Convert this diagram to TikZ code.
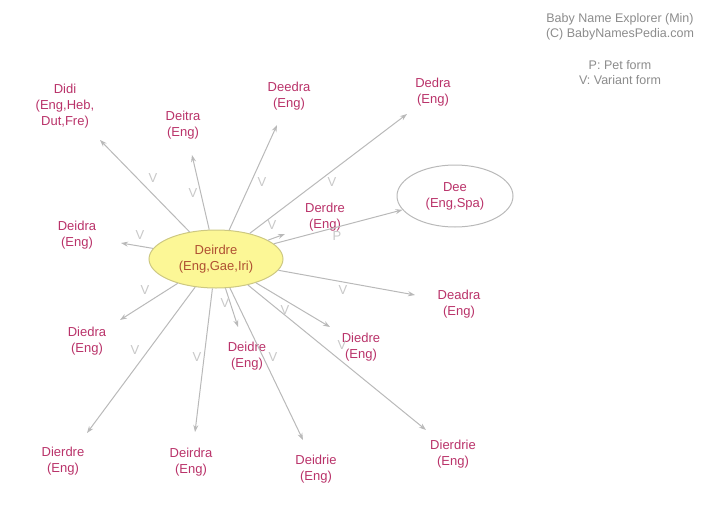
\documentclass[tikz,border=0pt]{standalone}
\usepackage{fontspec}
\setmainfont{Liberation Sans}
\usetikzlibrary{shapes,arrows.meta}
\definecolor{namered}{RGB}{185,50,105}
\definecolor{mainred}{RGB}{175,80,50}
\definecolor{edgegray}{RGB}{185,185,185}
\definecolor{vgray}{RGB}{200,200,200}
\definecolor{notegray}{RGB}{140,140,140}
\definecolor{mainfill}{RGB}{252,247,150}
\definecolor{mainline}{RGB}{205,200,130}
\tikzset{
  namelabel/.style={text=namered,align=center,inner sep=0pt,
    font=\fontsize{13}{16}\selectfont},
  mainnode/.style={ellipse,draw=mainline,fill=mainfill,line width=1pt,
    minimum width=134pt,minimum height=58pt,text=mainred,align=center,
    inner sep=0pt,font=\fontsize{13}{16}\selectfont},
  othernode/.style={ellipse,draw=edgegray,line width=1pt,
    minimum width=116pt,minimum height=62pt,text=namered,align=center,
    inner sep=0pt,font=\fontsize{13}{16}\selectfont},
  edge/.style={draw=edgegray,line width=1pt,-{Stealth[length=7pt,width=5pt]}},
  vlabel/.style={text=vgray,inner sep=0pt,font=\fontsize{13}{14}\selectfont},
  note/.style={text=notegray,align=center,inner sep=0pt,
    font=\fontsize{12.5}{15}\selectfont}
}
\begin{document}
\begin{tikzpicture}[x=1pt,y=-1pt]
    \useasboundingbox (0,0) rectangle (720,506);
    % centre and the pet form
    \node[mainnode] (deirdre) at (216,259) {Deirdre\\(Eng,Gae,Iri)};
    \node[othernode] (dee) at (455,196) {Dee\\(Eng,Spa)};
    % variant names
    \node[namelabel] (didi) at (65,106) {Didi\\(Eng,Heb,\\Dut,Fre)};
    \node[namelabel] (deitra) at (183,125) {Deitra\\(Eng)};
    \node[namelabel] (deedra) at (289,96) {Deedra\\(Eng)};
    \node[namelabel] (dedra) at (433,92) {Dedra\\(Eng)};
    \node[namelabel] (derdre) at (325,217) {Derdre\\(Eng)};
    \node[namelabel] (deidra) at (77,235) {Deidra\\(Eng)};
    \node[namelabel] (deadra) at (459,304) {Deadra\\(Eng)};
    \node[namelabel] (diedra) at (87,341) {Diedra\\(Eng)};
    \node[namelabel] (deidre) at (247,356) {Deidre\\(Eng)};
    \node[namelabel] (diedre) at (361,347) {Diedre\\(Eng)};
    \node[namelabel] (dierdre) at (63,461) {Dierdre\\(Eng)};
    \node[namelabel] (deirdra) at (191,462) {Deirdra\\(Eng)};
    \node[namelabel] (deidrie) at (316,469) {Deidrie\\(Eng)};
    \node[namelabel] (dierdrie) at (453,454) {Dierdrie\\(Eng)};
    % arrow ends
    \coordinate (didiTip) at (100,140);
    \coordinate (deitraTip) at (192,155);
    \coordinate (deedraTip) at (277,125);
    \coordinate (dedraTip) at (407,114);
    \coordinate (derdreTip) at (285,234);
    \coordinate (deidraTip) at (121,243);
    \coordinate (deadraTip) at (415,295);
    \coordinate (diedraTip) at (120,320);
    \coordinate (deidreTip) at (238,327);
    \coordinate (diedreTip) at (330,327);
    \coordinate (dierdreTip) at (87,433);
    \coordinate (deirdraTip) at (195,432);
    \coordinate (deidrieTip) at (303,440);
    \coordinate (dierdrieTip) at (426,430);
    \draw[edge] (deirdre) -- (didiTip);
    \draw[edge] (deirdre) -- (deitraTip);
    \draw[edge] (deirdre) -- (deedraTip);
    \draw[edge] (deirdre) -- (dedraTip);
    \draw[edge] (deirdre) -- (derdreTip);
    \draw[edge] (deirdre) -- (dee);
    \draw[edge] (deirdre) -- (deidraTip);
    \draw[edge] (deirdre) -- (deadraTip);
    \draw[edge] (deirdre) -- (diedraTip);
    \draw[edge] (deirdre) -- (deidreTip);
    \draw[edge] (deirdre) -- (diedreTip);
    \draw[edge] (deirdre) -- (dierdreTip);
    \draw[edge] (deirdre) -- (deirdraTip);
    \draw[edge] (deirdre) -- (deidrieTip);
    \draw[edge] (deirdre) -- (dierdrieTip);
    % kind of form on each link
    \node[vlabel] (vDidi) at (153,178) {V};
    \node[vlabel] (vDeitra) at (193,193) {V};
    \node[vlabel] (vDeedra) at (262,182) {V};
    \node[vlabel] (vDedra) at (332,182) {V};
    \node[vlabel] (vDerdre) at (272,225) {V};
    \node[vlabel] (pDee) at (337,236) {P};
    \node[vlabel] (vDeidra) at (140,235) {V};
    \node[vlabel] (vDeadra) at (343,290) {V};
    \node[vlabel] (vDiedra) at (145,290) {V};
    \node[vlabel] (vDierdre) at (135,350) {V};
    \node[vlabel] (vDeirdra) at (197,357) {V};
    \node[vlabel] (vDeidre) at (225,303) {V};
    \node[vlabel] (vDeidrie) at (273,357) {V};
    \node[vlabel] (vDiedre) at (285,310) {V};
    \node[vlabel] (vDierdrie) at (342,345) {V};
    % legend
    \node[note] (credit) at (620,27) {Baby Name Explorer (Min)\\(C) BabyNamesPedia.com};
    \node[note] (legend) at (620,73) {P: Pet form\\V: Variant form};
\end{tikzpicture}
\end{document}
